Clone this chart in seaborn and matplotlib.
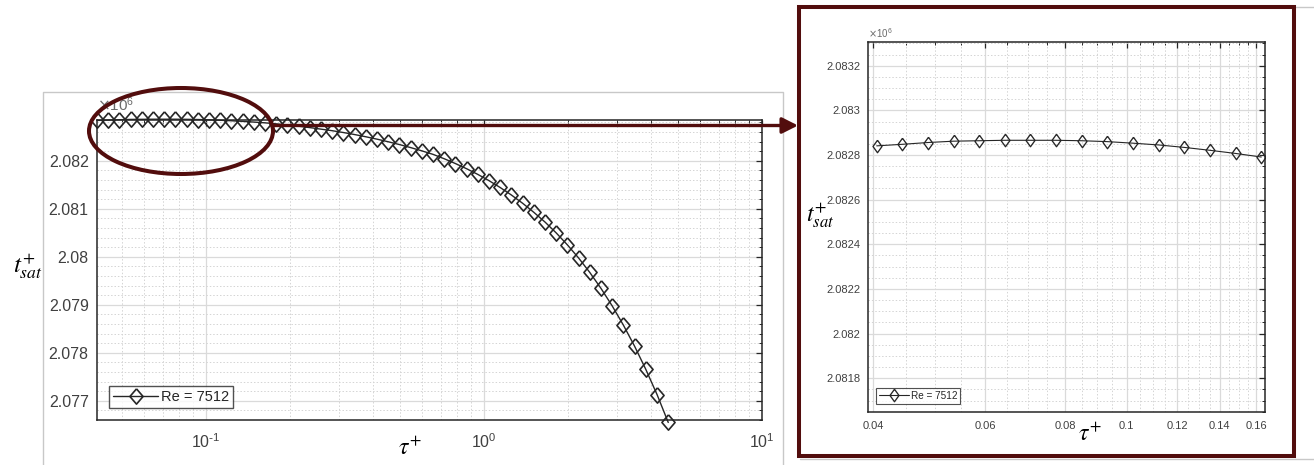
import matplotlib
matplotlib.use("Agg")
import math
import matplotlib.pyplot as plt
import seaborn as sns
import pandas as pd
from matplotlib.patches import Ellipse, Rectangle, FancyArrowPatch
from matplotlib.lines import Line2D
from matplotlib.ticker import (FixedLocator, FuncFormatter, LogLocator,
                               MultipleLocator, NullFormatter)

# ---------------- data ----------------
tau = [0.0405, 0.04443, 0.04875, 0.05348, 0.05868, 0.06437, 0.07063, 0.07749,
       0.08501, 0.09326, 0.1024, 0.1124, 0.1233, 0.1353, 0.1484, 0.1628,
       0.1786, 0.1960, 0.2150, 0.2359, 0.2588, 0.2842, 0.3118, 0.3421,
       0.3753, 0.4118, 0.4518, 0.4956, 0.5438, 0.5966, 0.6553, 0.7189,
       0.7887, 0.8653, 0.9493, 1.0415, 1.1426, 1.2536, 1.3753, 1.5089,
       1.6576, 1.8185, 1.9951, 2.1888, 2.4013, 2.6345, 2.8903, 3.1710,
       3.4789, 3.8167, 4.1920, 4.5990]
t_sat = [2082841, 2082848, 2082856, 2082862, 2082864, 2082866, 2082866, 2082866,
         2082864, 2082860, 2082853, 2082845, 2082834, 2082821, 2082807, 2082791,
         2082770, 2082747, 2082721, 2082692, 2082660, 2082627, 2082589, 2082547,
         2082501, 2082451, 2082397, 2082339, 2082276, 2082208, 2082134, 2082043,
         2081943, 2081835, 2081717, 2081587, 2081444, 2081288, 2081117, 2080929,
         2080723, 2080497, 2080248, 2079975, 2079674, 2079342, 2078978, 2078578,
         2078139, 2077658, 2077130, 2076549]
n_zoom_points = 16
series_label = "Re = 7512"

left_yticks = [2077000, 2078000, 2079000, 2080000, 2081000, 2082000]
right_yticks = [2081800, 2082000, 2082200, 2082400, 2082600, 2082800, 2083000, 2083200]
right_xticks = [0.04, 0.06, 0.08, 0.1, 0.12, 0.14, 0.16]
right_xminor = [0.040, 0.045, 0.050, 0.055, 0.060, 0.065, 0.070, 0.075, 0.080,
                0.085, 0.090, 0.095, 0.100, 0.105, 0.110, 0.115, 0.120, 0.125,
                0.130, 0.135, 0.140, 0.145, 0.150, 0.155, 0.160]

df = pd.DataFrame({"tau": tau, "t_sat": t_sat})
df_zoom = df.iloc[:n_zoom_points]

# ---------------- style ----------------
sns.set_theme(style="white")
plt.rcParams["font.family"] = ["Liberation Sans", "DejaVu Sans"]
plt.rcParams["axes.unicode_minus"] = False

W, H = 1314, 465
fig = plt.figure(figsize=(W / 100, H / 100), dpi=100)
fig.patch.set_facecolor("white")

MAROON = "#520d0d"
TICKGRAY = "#404040"
MARK = "#262626"
diamond = [(0, 1), (0.86, 0), (0, -1), (-0.86, 0), (0, 1)]
diamond_tall = [(0, 1), (0.72, 0), (0, -1), (-0.72, 0), (0, 1)]


def px_axes(l, t, r, b):
    return [l / W, 1 - b / H, (r - l) / W, (b - t) / H]


ax1 = fig.add_axes(px_axes(97, 120, 762, 420))
ax2 = fig.add_axes(px_axes(867.7, 42.3, 1265, 411.7))

fmt_m = FuncFormatter(lambda v, p: f"{v / 1e6:g}")


def log_fmt(v, p):
    e = int(round(math.log10(v)))
    if e < 0:
        exp = r"\text{-}" + str(-e)
    else:
        exp = str(e)
    return r"$\mathdefault{10^{" + exp + "}}$"


def style_axes(ax, labelsize):
    for s in ax.spines.values():
        s.set_color("#262626")
        s.set_linewidth(1.1)
    ax.tick_params(which="both", direction="in", top=True, right=True,
                   colors="#262626", labelcolor=TICKGRAY, labelsize=labelsize)
    ax.tick_params(which="major", length=4.5, width=0.9)
    ax.tick_params(which="minor", length=2.5, width=0.7)
    ax.grid(True, which="major", color="#dadada", lw=0.9, ls="-")
    ax.grid(True, which="minor", color="#d4d4d4", lw=0.7, ls=(0, (1.5, 2.0)))
    ax.set_axisbelow(True)
    ax.set_facecolor("white")


# ---------------- left plot ----------------
sns.lineplot(data=df, x="tau", y="t_sat", ax=ax1, color=MARK, lw=1.0,
             marker=diamond, markersize=11, markerfacecolor="none",
             markeredgecolor=MARK, markeredgewidth=1.2,
             estimator=None, sort=False, clip_on=False, label=series_label)
ax1.set_xscale("log")
ax1.set_xlim(0.0405, 10)
ax1.set_ylim(2076600, 2082850)
ax1.xaxis.set_major_locator(LogLocator(base=10))
ax1.xaxis.set_major_formatter(FuncFormatter(log_fmt))
ax1.xaxis.set_minor_locator(LogLocator(base=10, subs=[2, 3, 4, 5, 6, 7, 8, 9]))
ax1.xaxis.set_minor_formatter(NullFormatter())
ax1.yaxis.set_major_locator(FixedLocator(left_yticks))
ax1.yaxis.set_minor_locator(MultipleLocator(200))
ax1.yaxis.set_major_formatter(fmt_m)
style_axes(ax1, 11.5)
ax1.tick_params(axis="x", pad=9)
ax1.tick_params(axis="y", pad=6)
ax1.set_xlabel("")
ax1.set_ylabel("")
leg1 = ax1.legend(loc="lower left", fontsize=10.5, frameon=True, fancybox=False,
                  edgecolor="#262626", borderpad=0.25, handlelength=3.1,
                  handletextpad=0.2, borderaxespad=0.85)
leg1.get_frame().set_linewidth(1.0)
for t in leg1.get_texts():
    t.set_color("#262626")
ax1.text(0.0, 1.02, r"$\times\mathdefault{10^{6}}$", transform=ax1.transAxes,
         fontsize=11, color="#6a6a6a", ha="left", va="bottom")

# ---------------- right (zoom) plot ----------------
sns.lineplot(data=df_zoom, x="tau", y="t_sat", ax=ax2, color=MARK, lw=0.8,
             marker=diamond_tall, markersize=9, markerfacecolor="none",
             markeredgecolor=MARK, markeredgewidth=0.95,
             estimator=None, sort=False, label=series_label)
ax2.set_xscale("log")
ax2.set_xlim(0.0392, 0.165)
ax2.set_ylim(2081650, 2083305)
ax2.xaxis.set_major_locator(FixedLocator(right_xticks))
ax2.xaxis.set_major_formatter(FuncFormatter(lambda v, p: f"{v:g}"))
ax2.xaxis.set_minor_locator(FixedLocator(right_xminor))
ax2.xaxis.set_minor_formatter(NullFormatter())
ax2.yaxis.set_major_locator(FixedLocator(right_yticks))
ax2.yaxis.set_minor_locator(MultipleLocator(50))
ax2.yaxis.set_major_formatter(fmt_m)
style_axes(ax2, 8)
ax2.tick_params(axis="x", pad=7)
ax2.tick_params(axis="y", pad=5)
ax2.set_xlabel("")
ax2.set_ylabel("")
leg2 = ax2.legend(loc="lower left", fontsize=7.2, frameon=True, fancybox=False,
                  edgecolor="#262626", borderpad=0.3, handlelength=3.0,
                  handletextpad=0.2, borderaxespad=0.8)
leg2.get_frame().set_linewidth(0.8)
for t in leg2.get_texts():
    t.set_color("#262626")
ax2.text(0.0, 1.005, r"$\times\mathdefault{10^{6}}$", transform=ax2.transAxes,
         fontsize=7, color="#6a6a6a", ha="left", va="bottom")

# ---------------- axis labels (serif math) ----------------
fig.text(410 / W, 1 - 449 / H, r"$\tau^{+}$", fontsize=17, math_fontfamily="stix",
         ha="center", va="center", color="black")
fig.text(28 / W, 1 - 266 / H, r"$t^{+}_{sat}$", fontsize=18, math_fontfamily="stix",
         ha="center", va="center", color="black")
fig.text(1090 / W, 1 - 435 / H, r"$\tau^{+}$", fontsize=17, math_fontfamily="stix",
         ha="center", va="center", color="black")
fig.text(820 / W, 1 - 216 / H, r"$t^{+}_{sat}$", fontsize=17, math_fontfamily="stix",
         ha="center", va="center", color="black")

# ---------------- decorations ----------------
tf = fig.transFigure
fig.add_artist(Line2D([43 / W, 43 / W, 783 / W, 783 / W],
                      [0, 1 - 92 / H, 1 - 92 / H, 0], transform=tf,
                      color="#c8c8c8", lw=1.0))
fig.add_artist(Line2D([800 / W, 1314 / W], [1 - 459 / H, 1 - 459 / H], transform=tf,
                      color="#c8c8c8", lw=1.0))
fig.add_artist(Line2D([1294 / W, 1314 / W], [1 - 7 / H, 1 - 7 / H], transform=tf,
                      color="#c8c8c8", lw=1.0))
fig.add_artist(Rectangle((799 / W, 1 - 456 / H), (1294 - 799) / W, (456 - 7) / H,
                         transform=tf, fill=False, ec=MAROON, lw=2.9, zorder=5))
fig.add_artist(Ellipse((181 / W, 1 - 131 / H), 184 / W, 86 / H, transform=tf,
                       fill=False, ec=MAROON, lw=2.9, zorder=5))
fig.add_artist(FancyArrowPatch((273 / W, 1 - 125.5 / H), (798 / W, 1 - 125.5 / H),
                               transform=tf, arrowstyle="-|>,head_length=0.95,head_width=0.48",
                               mutation_scale=10, color=MAROON, lw=2.4,
                               shrinkA=0, shrinkB=0, zorder=5))

fig.savefig("out.png", dpi=100, facecolor="white")
